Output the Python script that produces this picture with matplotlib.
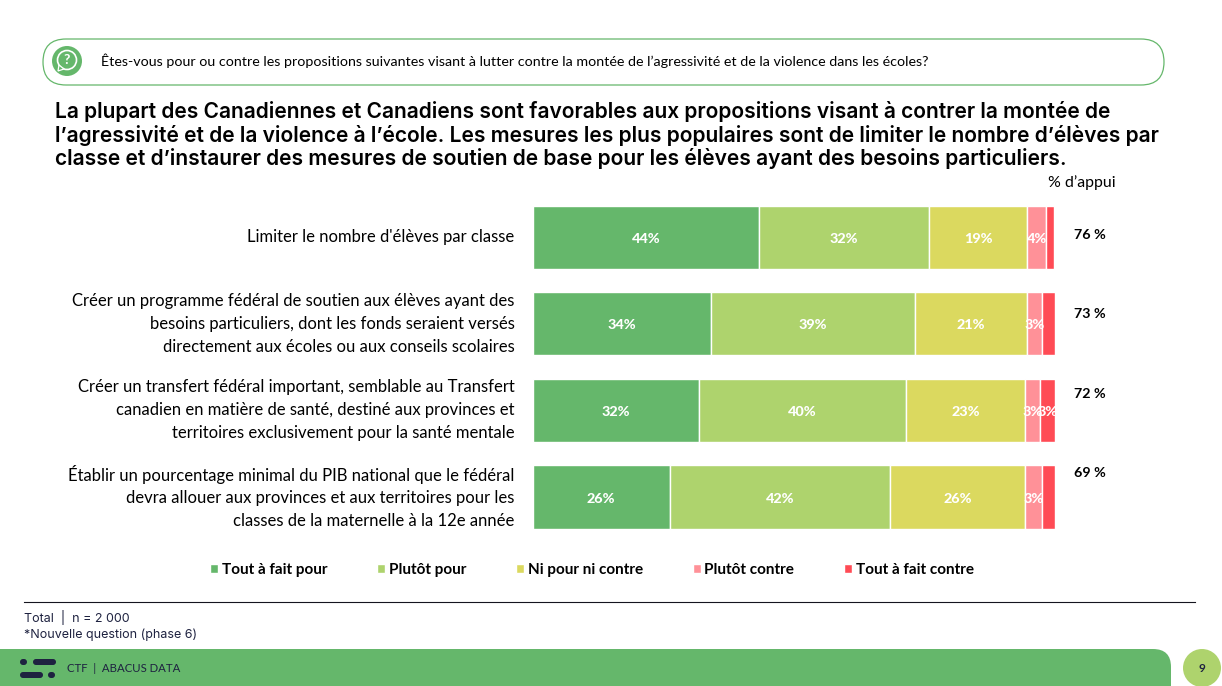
import matplotlib
matplotlib.use("Agg")
import matplotlib.pyplot as plt
from matplotlib.patches import Circle, FancyBboxPatch, Polygon

W, H = 1222, 686

question = "Êtes-vous pour ou contre les propositions suivantes visant à lutter contre la montée de l’agressivité et de la violence dans les écoles?"
title = ("La plupart des Canadiennes et Canadiens sont favorables aux propositions visant à contrer la montée de\n"
         "l’agressivité et de la violence à l’école. Les mesures les plus populaires sont de limiter le nombre d’élèves par\n"
         "classe et d’instaurer des mesures de soutien de base pour les élèves ayant des besoins particuliers.")
categories = [
    "Limiter le nombre d'élèves par classe",
    "Créer un programme fédéral de soutien aux élèves ayant des\nbesoins particuliers, dont les fonds seraient versés\ndirectement aux écoles ou aux conseils scolaires",
    "Créer un transfert fédéral important, semblable au Transfert\ncanadien en matière de santé, destiné aux provinces et\nterritoires exclusivement pour la santé mentale",
    "Établir un pourcentage minimal du PIB national que le fédéral\ndevra allouer aux provinces et aux territoires pour les\nclasses de la maternelle à la 12e année",
]
series_names = ["Tout à fait pour", "Plutôt pour", "Ni pour ni contre", "Plutôt contre", "Tout à fait contre"]
tout_pour = [43.4, 34.2, 31.9, 26.3]
plutot_pour = [32.6, 39.0, 39.7, 42.2]
ni_ni = [18.8, 21.5, 22.8, 25.9]
plutot_contre = [3.6, 2.9, 2.9, 3.3]
tout_contre = [1.6, 2.4, 2.7, 2.3]
# printed labels differ a bit from bar lengths, None = not shown in the original
labels_tout_pour = ["44%", "34%", "32%", "26%"]
labels_plutot_pour = ["32%", "39%", "40%", "42%"]
labels_ni_ni = ["19%", "21%", "23%", "26%"]
labels_plutot_contre = ["4%", "3%", "3%", "3%"]
labels_tout_contre = [None, None, "3%", None]
appui = ["76 %", "73 %", "72 %", "69 %"]
appui_y = [235, 314, 394, 473]

colors = ["#65B76B", "#AED36D", "#DBD95F", "#FF9198", "#FF4B55"]
GREEN = "#65B76B"
NAVY = "#1E2240"
BODY = "Lato"
HEAD = "Inter"

fig = plt.figure(figsize=(W / 100, H / 100), dpi=100, facecolor="white")

# page layer in pixel coords
bg = fig.add_axes([0, 0, 1, 1])
bg.set_xlim(0, W)
bg.set_ylim(H, 0)
bg.axis("off")

bg.add_patch(FancyBboxPatch((43, 39), 1121, 46, boxstyle="round,pad=0,rounding_size=23",
                            fc="white", ec=GREEN, lw=0.9))
bg.add_patch(Circle((67, 61), 15, fc=GREEN, ec="none"))
bg.add_patch(Circle((67, 60), 9.5, fc="none", ec="white", lw=1.2))
bg.add_patch(Polygon([[59, 65], [58, 71], [64, 69]], fc=GREEN, ec="white", lw=0.9))
bg.text(67, 60.5, "?", color="white", fontsize=10, fontweight="bold", family=BODY, ha="center", va="center")
bg.text(101, 61, question, fontsize=10.31, family=BODY, color="black", va="center")
bg.text(55, 135, title, fontsize=15.1, family=HEAD, fontweight=600, color="black", va="center", linespacing=1.13)
bg.text(1048, 183, "% d’appui", fontsize=11.4, family=BODY, color="black", va="center")

# footer
bg.plot([24, 1195], [601.5, 601.5], color="#15151F", lw=0.8)
bg.text(24, 617.5, "Total  |  n = 2 000", fontsize=9, family=HEAD, color=NAVY, va="center")
bg.text(24, 634.5, "*Nouvelle question (phase 6)", fontsize=9, family=HEAD, color=NAVY, va="center")
bg.add_patch(FancyBboxPatch((-40, 649), 1211, 60, boxstyle="round,pad=0,rounding_size=18", fc=GREEN, ec="none"))
bg.add_patch(Circle((1202, 668), 19, fc="#AED36D", ec="none"))
bg.text(1202, 668, "9", fontsize=8.5, fontweight="bold", family=BODY, color=NAVY, ha="center", va="center")
for x, y, w in [(20, 659, 7), (33, 659, 23), (20, 672, 23), (48, 672, 7)]:
    bg.add_patch(FancyBboxPatch((x, y), w, 6, boxstyle="round,pad=0,rounding_size=3", fc=NAVY, ec="none"))
bg.text(67, 669, "CTF  |  ABACUS DATA", fontsize=8.2, family=BODY, color=NAVY, va="center")

# chart
ax = fig.add_axes([532.5 / W, 1 - 528.5 / H, (1054.5 - 532.5) / W, (528.5 - 205.5) / H])
ax.patch.set_alpha(0)
values = [tout_pour, plutot_pour, ni_ni, plutot_contre, tout_contre]
labels = [labels_tout_pour, labels_plutot_pour, labels_ni_ni, labels_plutot_contre, labels_tout_contre]
ypos = list(range(len(categories)))
left = [0] * len(categories)
handles = []
for name, vals, labs, col in zip(series_names, values, labels, colors):
    bars = ax.barh(ypos, vals, left=left, height=0.73, color=col, edgecolor="white", linewidth=1, label=name)
    handles.append(bars)
    for i, lab in enumerate(labs):
        if lab:
            ax.annotate(lab, (left[i] + vals[i] / 2, i), xytext=(0, -1.2), textcoords="offset points", color="white",
                        fontsize=10.4, fontweight=900, family=BODY, ha="center", va="center")
    left = [a + b for a, b in zip(left, vals)]
ax.set_xlim(0, 100)
ax.set_ylim(3.365, -0.365)
ax.set_yticks(ypos)
ax.set_yticklabels(categories, fontsize=12, family=BODY, color="black", linespacing=1.53, va="center")
ax.tick_params(axis="y", length=0, pad=13)
ax.set_xticks([])
for s in ax.spines.values():
    s.set_visible(False)

for txt, y in zip(appui, appui_y):
    bg.text(1074, y, txt, fontsize=10.3, fontweight="bold", family=BODY, color="black", va="center")

leg = fig.legend(handles=handles, loc="center", bbox_to_anchor=(592 / W, 1 - 570 / H), ncol=5, frameon=False,
                 prop={"family": BODY, "weight": "bold", "size": 11}, handlelength=0.52, handleheight=0.52,
                 handletextpad=0.25, columnspacing=3.25, borderpad=0, borderaxespad=0)

fig.savefig("out.png", dpi=100)
